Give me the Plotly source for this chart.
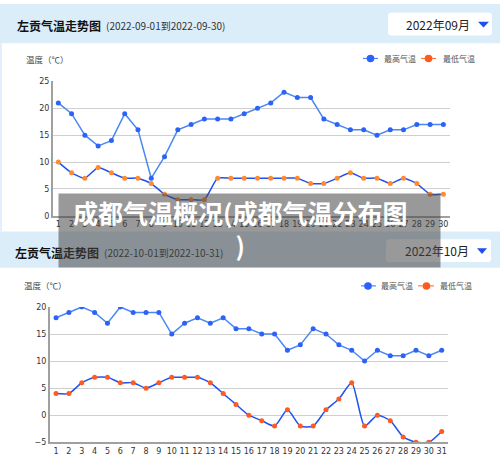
import plotly.graph_objects as go

# ---------------- data ----------------
days_sep = list(range(1, 31))
high_sep = [21, 19, 15, 13, 14, 19, 16, 7, 11, 16, 17, 18, 18, 18, 19, 20, 21, 23, 22, 22,
            18, 17, 16, 16, 15, 16, 16, 17, 17, 17]
low_sep = [10, 8, 7, 9, 8, 7, 7, 6, 4, 3, 3, 3, 7, 7, 7, 7, 7, 7, 7, 6,
           6, 7, 8, 7, 7, 6, 7, 6, 4, 4]

days_oct = list(range(1, 32))
high_oct = [18, 19, 20, 19, 17, 20, 19, 19, 19, 15, 17, 18, 17, 18, 16, 16, 15, 15, 12, 13,
            16, 15, 13, 12, 10, 12, 11, 11, 12, 11, 12]
low_oct = [4, 4, 6, 7, 7, 6, 6, 5, 6, 7, 7, 7, 6, 4, 2, 0, -1, -2, 1, -2,
           -2, 1, 3, 6, -2, 0, -1, -4, -5, -5, -3]

yticks_sep = [0, 5, 10, 15, 20, 25]
yticks_oct = [-5, 0, 5, 10, 15, 20]

series_names = ["最高气温", "最低气温"]
title_text = "左贡气温走势图"
sub_sep = "(2022-09-01到2022-09-30)"
sub_oct = "(2022-10-01到2022-10-31)"
month_sep = "2022年09月"
month_oct = "2022年10月"
unit_text = "温度（℃）"
overlay_text = "成都气温概况(成都气温分布图<br>)"

W, H = 500, 462
CJK = "Noto Sans CJK SC"
NUM = "DejaVu Sans"


def px(x):
    return x / W


def py(y):
    return (H - y) / H


HIGH_LINE = "#4a88f5"
HIGH_MK = "#2c62f6"
LOW_LINE = "#1f52ee"
LOW_MK1 = "#ff8a30"
LOW_MK2 = "#ff5a1f"

fig = go.Figure()

fig.add_trace(go.Scatter(x=days_sep, y=high_sep, mode="lines+markers", xaxis="x", yaxis="y",
                         line=dict(color=HIGH_LINE, width=1.5),
                         marker=dict(color=HIGH_MK, size=5), name=series_names[0]))
fig.add_trace(go.Scatter(x=days_sep, y=low_sep, mode="lines+markers", xaxis="x", yaxis="y",
                         line=dict(color=LOW_LINE, width=1.5, shape="spline", smoothing=0.5),
                         marker=dict(color=LOW_MK1, size=5), name=series_names[1]))
fig.add_trace(go.Scatter(x=days_oct, y=high_oct, mode="lines+markers", xaxis="x2", yaxis="y2",
                         line=dict(color=HIGH_LINE, width=1.5),
                         marker=dict(color=HIGH_MK, size=5), name=series_names[0]))
fig.add_trace(go.Scatter(x=days_oct, y=low_oct, mode="lines+markers", xaxis="x2", yaxis="y2",
                         line=dict(color=LOW_LINE, width=1.5, shape="spline", smoothing=0.6),
                         marker=dict(color=LOW_MK2, size=5), name=series_names[1]))

xcommon = dict(showgrid=False, showline=True, linecolor="#a0a0a0", linewidth=1.5, ticks="",
               tickfont=dict(family=NUM, size=8, color="#333"), zeroline=False, fixedrange=True)
ycommon = dict(showgrid=True, gridcolor="#cfcfcf", gridwidth=1, showline=True, linecolor="#a0a0a0",
               linewidth=2, ticks="", zeroline=False,
               tickfont=dict(family=NUM, size=8, color="#333"), fixedrange=True)

layout = dict(
    width=W, height=H, margin=dict(l=0, r=0, t=0, b=0),
    paper_bgcolor="white", plot_bgcolor="white", showlegend=False,
    xaxis=dict(domain=[px(53), px(450)], range=[0.6, 30.5], tickvals=days_sep, anchor="y", **xcommon),
    yaxis=dict(domain=[py(216), py(79)], range=[0, 25], tickvals=yticks_sep, anchor="x", **ycommon),
    xaxis2=dict(domain=[px(50), px(448)], range=[0.53, 31.49], tickvals=days_oct, anchor="y2", **xcommon),
    yaxis2=dict(domain=[py(447), py(309)], range=[-5, 20], tickvals=yticks_oct, anchor="x2", **ycommon),
)
fig.update_layout(**layout)

shapes = []
annotations = []

HEADER = "#dcedfa"
# header bands
shapes.append(dict(type="rect", xref="paper", yref="paper", x0=0, x1=1, y0=py(40), y1=py(0),
                   fillcolor=HEADER, line=dict(width=0), layer="below"))
shapes.append(dict(type="rect", xref="paper", yref="paper", x0=0, x1=1, y0=py(269), y1=py(232),
                   fillcolor=HEADER, line=dict(width=0), layer="below"))
# thin left border of panel 1 body
shapes.append(dict(type="rect", xref="paper", yref="paper", x0=0, x1=px(2), y0=py(232), y1=py(40),
                   fillcolor="#e3f0fb", line=dict(width=0), layer="below"))


def rounded_box(x0, y0, x1, y1, r=3):
    X = lambda v: px(v)
    Y = lambda v: py(v)
    return (f"M {X(x0+r)},{Y(y0)} L {X(x1-r)},{Y(y0)} Q {X(x1)},{Y(y0)} {X(x1)},{Y(y0+r)} "
            f"L {X(x1)},{Y(y1-r)} Q {X(x1)},{Y(y1)} {X(x1-r)},{Y(y1)} "
            f"L {X(x0+r)},{Y(y1)} Q {X(x0)},{Y(y1)} {X(x0)},{Y(y1-r)} "
            f"L {X(x0)},{Y(y0+r)} Q {X(x0)},{Y(y0)} {X(x0+r)},{Y(y0)} Z")


def header(ytop, title, sub, month, box, tri, xtitle, xsub, ytext):
    shapes.append(dict(type="path", xref="paper", yref="paper", path=rounded_box(*box),
                       fillcolor="white", line=dict(width=0), layer="below"))
    tx0, ty0, tx1, ty1 = tri
    shapes.append(dict(type="path", xref="paper", yref="paper",
                       path=f"M {px(tx0)},{py(ty0)} L {px(tx1)},{py(ty0)} L {px((tx0+tx1)/2)},{py(ty1)} Z",
                       fillcolor="#1d4ff5", line=dict(width=0), layer="above"))
    annotations.append(dict(xref="paper", yref="paper", x=px(xtitle), y=py(ytext), xanchor="left",
                            yanchor="middle", showarrow=False, text=f"<b>{title}</b>",
                            font=dict(family=CJK, size=12, color="#111")))
    annotations.append(dict(xref="paper", yref="paper", x=px(xsub), y=py(ytext), xanchor="left",
                            yanchor="middle", showarrow=False, text=sub,
                            font=dict(family=CJK, size=10, color="#333")))
    annotations.append(dict(xref="paper", yref="paper", x=px(tx0 - 6), y=py((box[1] + box[3]) / 2),
                            xanchor="right", yanchor="middle", showarrow=False, text=month,
                            font=dict(family=CJK, size=12, color="#222")))


def legend(yc, items):
    for (lx0, lx1, cx, tx), color_line, color_mk, name in items:
        shapes.append(dict(type="line", xref="paper", yref="paper", x0=px(lx0), x1=px(lx1),
                           y0=py(yc), y1=py(yc), line=dict(color=color_line, width=1)))
        shapes.append(dict(type="circle", xref="paper", yref="paper", x0=px(cx - 3.8), x1=px(cx + 3.8),
                           y0=py(yc + 3.8), y1=py(yc - 3.8), fillcolor=color_mk,
                           line=dict(width=0)))
        annotations.append(dict(xref="paper", yref="paper", x=px(tx), y=py(yc), xanchor="left",
                                yanchor="middle", showarrow=False, text=name,
                                font=dict(family=CJK, size=8, color="#555")))


# panel 1
header(0, title_text, sub_sep, month_sep, (388, 9, 492, 32), (478, 18, 489, 24), 15, 104, 22)
annotations.append(dict(xref="paper", yref="paper", x=px(24), y=py(56), xanchor="left", yanchor="middle",
                        showarrow=False, text=unit_text, font=dict(family=CJK, size=8.5, color="#444")))
legend(55.5, [((363, 378, 370.5, 382), "#3b6ff5", "#2962ff", series_names[0]),
              ((421, 436, 428.5, 440.5), "#ff6a20", "#ff5a1f", series_names[1])])

# panel 2
header(232, title_text, sub_oct, month_oct, (386, 240, 491, 263), (477, 249, 487, 255), 13, 102, 253)
annotations.append(dict(xref="paper", yref="paper", x=px(22), y=py(287), xanchor="left", yanchor="middle",
                        showarrow=False, text=unit_text, font=dict(family=CJK, size=8.5, color="#444")))
legend(287.5, [((361, 376, 368, 379), "#3b6ff5", "#2962ff", series_names[0]),
               ((418, 434, 426.5, 438), "#ff6a20", "#ff5a1f", series_names[1])])

# overlay box + text (annotations drawn above everything else)
annotations.append(dict(xref="paper", yref="paper", x=px((59 + 440) / 2), y=py((194 + 267) / 2),
                        xanchor="center", yanchor="middle", showarrow=False, text=" ",
                        width=381, height=73, borderpad=0, bgcolor="rgba(70,70,70,0.55)",
                        font=dict(size=10)))
annotations.append(dict(xref="paper", yref="paper", x=px(240), y=py(229), xanchor="center",
                        yanchor="middle", showarrow=False, text=f"<b>{overlay_text}</b>", align="center",
                        font=dict(family=CJK, size=25, color="white")))

fig.update_layout(shapes=shapes, annotations=annotations)
fig.write_html("out.html")
